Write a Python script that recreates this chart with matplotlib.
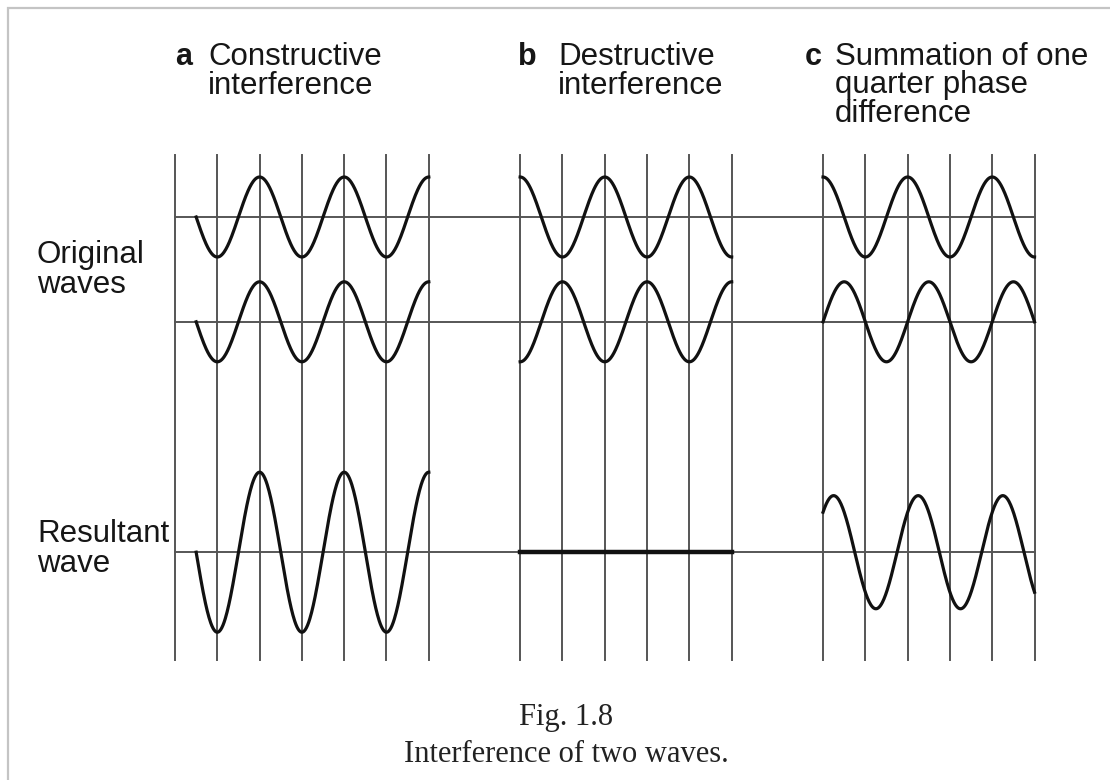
import numpy as np
import matplotlib
matplotlib.use('Agg')
import matplotlib.pyplot as plt
from matplotlib.patches import Rectangle


# Panels: letter, heading lines, number of grid lines
letters = ['a', 'b', 'c']
headings = [['Constructive', 'interference'],
            ['Destructive', 'interference'],
            ['Summation of one', 'quarter phase', 'difference']]
n_grid = [7, 6, 6]

# Original waves: y = amp * cos(pi * (u - peak)), u in grid spacings
amp = [1.0, 1.0, 1.0]
wave1_peak = [0.0, 0.0, 0.0]
wave2_peak = [0.0, 1.0, 0.5]
wave_start = [0.5, 0.0, 0.0]
wave_end = [6.0, 5.0, 5.0]

row_labels = [['Original', 'waves'], ['Resultant', 'wave']]
caption = ['Fig. 1.8', 'Interference of two waves.']

# Layout (pixels -> data units)
W, H = 1110, 780
X0, PX_X = 175, 42.3
Y0, PX_Y = 217, 40.0
panel_offset = [0, 8.16, 15.32]
row_base = [0, -2.62, -8.38]
grid_top, grid_bottom = 1.55, -11.07

fig = plt.figure(figsize=(W / 100, H / 100), dpi=100)
ax = fig.add_axes([0, 0, 1, 1])
ax.set_xlim(-X0 / PX_X, (W - X0) / PX_X)
ax.set_ylim(-(H - Y0) / PX_Y, Y0 / PX_Y)
ax.axis('off')

# page frame
fig.patches.append(Rectangle((8 / W, -0.1), 1.2, 1 - 8 / H + 0.1, transform=fig.transFigure,
                             fill=False, edgecolor='#c4c4c4', lw=1.6))

# horizontal base lines across all panels
x_end = panel_offset[2] + n_grid[2] - 1
for b in row_base:
    ax.plot([0, x_end], [b, b], color='#3a3a3a', lw=1.2, zorder=1)

for i in range(3):
    off = panel_offset[i]
    # vertical grid lines
    for k in range(n_grid[i]):
        ax.plot([off + k, off + k], [grid_bottom, grid_top], color='#555555', lw=1.4, zorder=1)

    u = np.linspace(wave_start[i], wave_end[i], 400)
    w1 = amp[i] * np.cos(np.pi * (u - wave1_peak[i]))
    w2 = amp[i] * np.cos(np.pi * (u - wave2_peak[i]))
    res = w1 + w2
    ax.plot(off + u, row_base[0] + w1, color='#111111', lw=2.3, zorder=3)
    ax.plot(off + u, row_base[1] + w2, color='#111111', lw=2.3, zorder=3)
    lw_res = 3.2 if np.allclose(res, 0) else 2.3
    ax.plot(off + u, row_base[2] + res, color='#111111', lw=lw_res, zorder=3)


def px(x, y):
    return x / W, 1 - y / H


sans = ['Liberation Sans', 'DejaVu Sans']
letter_x = [175, 518, 805]
text_x = [208, 558, 835]
for i in range(3):
    fig.text(*px(letter_x[i], 65), letters[i], fontsize=22, fontweight='bold',
             family=sans, va='baseline', color='#161616')
    for j, line in enumerate(headings[i]):
        fig.text(*px(text_x[i], 65 + 28.5 * j), line, fontsize=22.5,
                 family=sans, va='baseline', color='#161616')

label_y = [263, 542]
for lab, y in zip(row_labels, label_y):
    for j, line in enumerate(lab):
        fig.text(*px(37, y + 30 * j), line, fontsize=22.5, family=sans,
                 va='baseline', color='#161616')

for j, line in enumerate(caption):
    fig.text(*px(566, 725 + 37 * j), line, fontsize=22, family=['Liberation Serif', 'DejaVu Serif'],
             ha='center', va='baseline', color='#222222')

fig.savefig('out.png', dpi=100, facecolor='white')
